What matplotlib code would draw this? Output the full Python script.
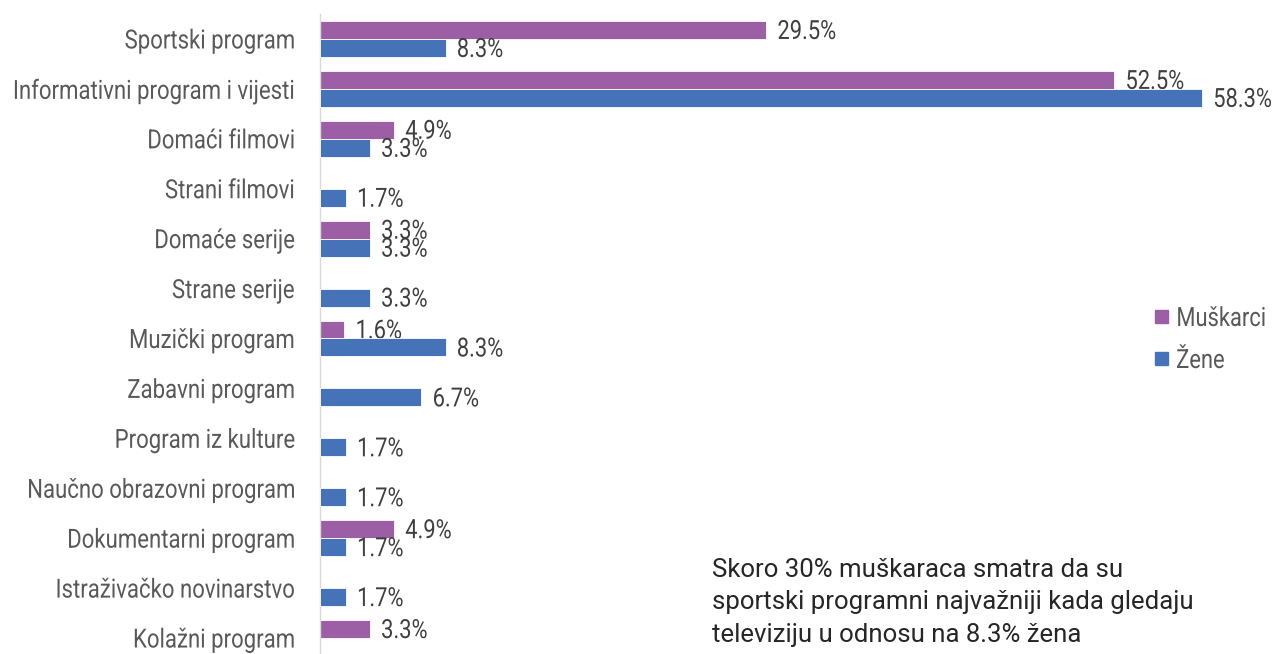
import matplotlib.pyplot as plt
import numpy as np
from matplotlib.patheffects import AbstractPathEffect
from matplotlib.transforms import Affine2D

categories = ['Sportski program', 'Informativni program i vijesti', 'Domaći filmovi',
              'Strani filmovi', 'Domaće serije', 'Strane serije', 'Muzički program',
              'Zabavni program', 'Program iz kulture', 'Naučno obrazovni program',
              'Dokumentarni program', 'Istraživačko novinarstvo', 'Kolažni program']
muskarci = [29.5, 52.5, 4.9, None, 3.3, None, 1.6, None, None, None, 4.9, None, 3.3]
zene = [8.3, 58.3, 3.3, 1.7, 3.3, 3.3, 8.3, 6.7, 1.7, 1.7, 1.7, 1.7, None]
series_names = ['Muškarci', 'Žene']
note_lines = ['Skoro 30% muškaraca smatra da su',
              'sportski programni najvažniji kada gledaju',
              'televiziju u odnosu na 8.3% žena']


class Squeeze(AbstractPathEffect):
    # draw text narrower (condensed look), keeping one edge fixed
    def __init__(self, sx=0.83, anchor='left'):
        super().__init__()
        self.sx = sx
        self.anchor = anchor

    def draw_path(self, renderer, gc, tpath, affine, rgbFace=None):
        ext = tpath.get_extents(affine)
        x0 = ext.x1 if self.anchor == 'right' else ext.x0
        t = affine + Affine2D().translate(-x0, 0).scale(self.sx, 1).translate(x0, 0)
        renderer.draw_path(gc, tpath, t, rgbFace)


font = ['Roboto', 'DejaVu Sans']
purple = '#9c5fa5'
blue = '#4672b8'
fs = 19
sq = 0.83

fig = plt.figure(figsize=(12.76, 6.54), dpi=100)
ax = fig.add_axes([320 / 1276, 0, 1 - 320 / 1276, (654 - 14) / 654])

y = np.arange(len(categories))
h = 0.36
px_per_unit = 956 / 63.2  # pixels per percent

for vals, off, col, z in [(muskarci, -h / 2, purple, 2), (zene, h / 2, blue, 3)]:
    for i, v in enumerate(vals):
        if v is None:
            continue
        ax.barh(y[i] + off, v, height=h, color=col, edgecolor='white', linewidth=0.6, zorder=z)
        t = ax.text(v + 11 / px_per_unit, y[i] + off + 0.18, '{:.1f}%'.format(v),
                    va='baseline', ha='left', fontsize=fs, color='#404040', family=font,
                    zorder=z + 0.5)
        t.set_path_effects([Squeeze(sq, 'left')])

ax.set_xlim(0, 63.2)
ax.set_ylim(12.32, -0.5)
ax.set_yticks(y)
ax.set_yticklabels(categories, family=font, fontsize=fs, color='#595959')
for lab in ax.get_yticklabels():
    lab.set_path_effects([Squeeze(0.84, 'right')])
ax.tick_params(axis='y', length=0, pad=18)
ax.set_xticks([])
for s in ['top', 'right', 'bottom']:
    ax.spines[s].set_visible(False)
ax.spines['left'].set_color('#d9d9d9')
ax.spines['left'].set_linewidth(1)

# legend
for name, col, ly in [(series_names[0], purple, 317), (series_names[1], blue, 359)]:
    fig.patches.append(plt.Rectangle((1155 / 1276, 1 - (ly + 6) / 654), 13 / 1276, 13 / 654,
                                     transform=fig.transFigure, color=col))
    lt = fig.text(1176 / 1276, 1 - (ly + 9) / 654, name, va='baseline', ha='left',
                  fontsize=fs, color='#595959', family=font)
    lt.set_path_effects([Squeeze(sq, 'left')])

for k, line in enumerate(note_lines):
    fig.text(712 / 1276, 1 - (577 + 32.5 * k) / 654, line, va='baseline', ha='left',
             fontsize=18.5, color='#262626', family=font)

fig.savefig('out.png', dpi=100)
